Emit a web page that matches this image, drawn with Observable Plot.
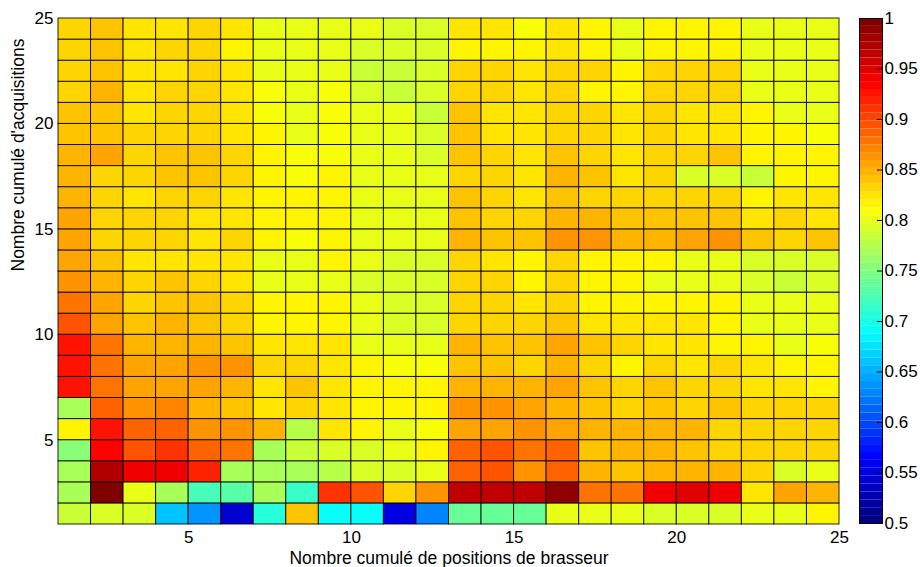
<!DOCTYPE html>
<html><head><meta charset="utf-8">
<script src="https://cdn.jsdelivr.net/npm/d3@7"></script>
<script src="https://cdn.jsdelivr.net/npm/@observablehq/plot@0.6"></script>
<style>
body{margin:0;background:#fff;}
#wrap{position:relative;width:920px;height:567px;background:#fff;}
#wrap svg{position:absolute;left:0;top:0;}
</style></head><body><div id="wrap"></div>
<script>
const xLabel = "Nombre cumulé de positions de brasseur";
const yLabel = "Nombre cumulé d'acquisitions";
const xTicks = [5, 10, 15, 20, 25];
const yTicks = [5, 10, 15, 20, 25];
const cbTicks = [0.5, 0.55, 0.6, 0.65, 0.7, 0.75, 0.8, 0.85, 0.9, 0.95, 1];

// values per row (y = 1 .. 24), columns x = 1 .. 24
const y24 = [0.833,0.837,0.824,0.824,0.830,0.822,0.800,0.800, 0.800,0.797,0.790,0.790,0.822,0.822,0.806,0.827, 0.820,0.800,0.817,0.817,0.817,0.800,0.797,0.797];
const y23 = [0.832,0.840,0.823,0.830,0.835,0.813,0.800,0.800, 0.797,0.795,0.790,0.790,0.817,0.815,0.815,0.825, 0.813,0.800,0.813,0.813,0.813,0.800,0.797,0.797];
const y22 = [0.832,0.840,0.823,0.822,0.835,0.823,0.803,0.800, 0.797,0.786,0.786,0.790,0.830,0.830,0.827,0.835, 0.830,0.815,0.830,0.830,0.830,0.800,0.800,0.800];
const y21 = [0.835,0.845,0.823,0.830,0.830,0.823,0.810,0.800, 0.805,0.792,0.786,0.790,0.830,0.830,0.825,0.835, 0.815,0.815,0.830,0.830,0.830,0.800,0.797,0.800];
const y20 = [0.843,0.843,0.822,0.830,0.832,0.823,0.812,0.800, 0.810,0.797,0.797,0.786,0.838,0.828,0.827,0.832, 0.830,0.825,0.830,0.825,0.825,0.813,0.803,0.800];
const y19 = [0.843,0.843,0.830,0.830,0.832,0.825,0.813,0.802, 0.810,0.797,0.797,0.790,0.837,0.828,0.827,0.832, 0.830,0.825,0.832,0.823,0.825,0.813,0.813,0.805];
const y18 = [0.850,0.852,0.835,0.837,0.837,0.830,0.813,0.812, 0.810,0.797,0.800,0.795,0.838,0.835,0.825,0.840, 0.835,0.823,0.835,0.835,0.838,0.813,0.813,0.813];
const y17 = [0.850,0.835,0.830,0.837,0.837,0.830,0.813,0.812, 0.813,0.797,0.800,0.797,0.835,0.832,0.825,0.845, 0.838,0.825,0.835,0.790,0.790,0.785,0.813,0.820];
const y16 = [0.850,0.835,0.825,0.832,0.833,0.825,0.813,0.813, 0.813,0.800,0.800,0.797,0.840,0.832,0.825,0.840, 0.835,0.830,0.835,0.835,0.835,0.813,0.825,0.825];
const y15 = [0.857,0.835,0.830,0.830,0.828,0.823,0.813,0.813, 0.813,0.800,0.800,0.800,0.842,0.835,0.835,0.845, 0.850,0.840,0.840,0.838,0.840,0.823,0.830,0.823];
const y14 = [0.855,0.835,0.830,0.835,0.828,0.832,0.813,0.810, 0.813,0.800,0.800,0.800,0.847,0.840,0.838,0.860, 0.860,0.845,0.845,0.855,0.860,0.838,0.833,0.840];
const y13 = [0.855,0.840,0.822,0.825,0.828,0.822,0.800,0.800, 0.813,0.797,0.790,0.790,0.832,0.825,0.813,0.830, 0.815,0.813,0.813,0.800,0.800,0.795,0.795,0.795];
const y12 = [0.860,0.850,0.833,0.840,0.833,0.822,0.800,0.800, 0.800,0.795,0.790,0.792,0.830,0.830,0.815,0.832, 0.815,0.815,0.800,0.800,0.800,0.795,0.788,0.790];
const y11 = [0.880,0.857,0.835,0.843,0.837,0.830,0.813,0.813, 0.813,0.800,0.795,0.790,0.832,0.830,0.823,0.835, 0.813,0.813,0.813,0.813,0.815,0.800,0.797,0.797];
const y10 = [0.897,0.855,0.843,0.845,0.840,0.835,0.813,0.813, 0.813,0.800,0.795,0.795,0.835,0.835,0.830,0.842, 0.825,0.825,0.823,0.825,0.815,0.800,0.797,0.800];
const y9  = [0.925,0.877,0.848,0.850,0.850,0.840,0.823,0.825, 0.822,0.800,0.803,0.797,0.845,0.842,0.840,0.852, 0.837,0.832,0.823,0.825,0.813,0.813,0.800,0.805];
const y8  = [0.925,0.875,0.855,0.855,0.860,0.866,0.833,0.833, 0.825,0.813,0.805,0.805,0.843,0.842,0.835,0.850, 0.830,0.820,0.830,0.823,0.832,0.823,0.815,0.820];
const y7  = [0.922,0.875,0.855,0.857,0.857,0.848,0.823,0.837, 0.825,0.813,0.813,0.813,0.850,0.850,0.845,0.852, 0.837,0.832,0.837,0.830,0.832,0.825,0.825,0.820];
const y6  = [0.770,0.888,0.862,0.870,0.845,0.840,0.825,0.835, 0.825,0.813,0.820,0.820,0.860,0.860,0.852,0.850, 0.840,0.835,0.842,0.832,0.843,0.830,0.835,0.830];
const y5  = [0.813,0.925,0.890,0.890,0.865,0.865,0.845,0.780, 0.825,0.813,0.800,0.805,0.855,0.855,0.866,0.853, 0.847,0.847,0.845,0.850,0.830,0.830,0.830,0.830];
const y4  = [0.757,0.930,0.897,0.907,0.885,0.880,0.770,0.785, 0.795,0.795,0.797,0.813,0.890,0.892,0.875,0.887, 0.840,0.845,0.845,0.838,0.830,0.830,0.830,0.830];
const y3  = [0.768,0.970,0.945,0.945,0.920,0.767,0.767,0.767, 0.775,0.790,0.795,0.803,0.887,0.897,0.866,0.890, 0.847,0.840,0.847,0.850,0.845,0.830,0.790,0.797];
const y2  = [0.770,1.000,0.797,0.770,0.720,0.727,0.770,0.718, 0.913,0.897,0.830,0.867,0.967,0.965,0.965,0.990, 0.877,0.875,0.945,0.952,0.945,0.825,0.852,0.845];
const y1  = [0.785,0.795,0.795,0.660,0.640,0.545,0.710,0.840, 0.695,0.695,0.550,0.630,0.742,0.742,0.742,0.797, 0.797,0.797,0.795,0.795,0.795,0.797,0.800,0.820];

const rows = [y1,y2,y3,y4,y5,y6,y7,y8,y9,y10,y11,y12,y13,y14,y15,y16,y17,y18,y19,y20,y21,y22,y23,y24];

// MATLAB-like jet colormap with 64 levels
function jet(t) {
  const n = 64;
  const i = Math.max(0, Math.min(n - 1, Math.floor(t * n)));
  const x = i / (n - 1);
  const c = v => Math.round(255 * Math.max(0, Math.min(1, v)));
  const r = c(1.5 - Math.abs(4 * x - 3));
  const g = c(1.5 - Math.abs(4 * x - 2));
  const b = c(1.5 - Math.abs(4 * x - 1));
  return `rgb(${r},${g},${b})`;
}

const cells = [];
rows.forEach((row, i) => row.forEach((v, j) => cells.push({x: j + 1, y: i + 1, v})));

const colorOpts = {type: "linear", domain: [0.5, 1], interpolate: t => jet(t), clamp: true};
const font = "'Liberation Sans', Arial, Helvetica, sans-serif";
const fmt = d => String(Math.round(d * 100) / 100);

const main = Plot.plot({
  width: 920, height: 567,
  marginLeft: 58, marginRight: 81, marginTop: 18, marginBottom: 43,
  style: {fontFamily: font, fontSize: "17px", color: "#000", background: "transparent"},
  x: {domain: [1, 25], ticks: xTicks, tickSize: 0, tickPadding: 6, label: null, tickFormat: fmt},
  y: {domain: [1, 25], ticks: yTicks, tickSize: 0, tickPadding: 5, label: null, tickFormat: fmt},
  color: colorOpts,
  marks: [
    Plot.rect(cells, {x1: "x", x2: d => d.x + 1, y1: "y", y2: d => d.y + 1, fill: "v", stroke: "#000", strokeWidth: 1, strokeOpacity: 0.85}),
    Plot.text([xLabel], {frameAnchor: "bottom", dy: 39, fontSize: 17.5, fill: "#000"}),
    Plot.text([yLabel], {frameAnchor: "left", dx: -40, rotate: -90, fontSize: 17.5, fill: "#000"})
  ]
});

const cbBins = d3.range(64).map(i => ({y1: 0.5 + i / 128, y2: 0.5 + (i + 1) / 128, v: 0.5 + (i + 0.5) / 128}));

const bar = Plot.plot({
  width: 920, height: 567,
  marginLeft: 859, marginRight: 38, marginTop: 18, marginBottom: 44,
  style: {fontFamily: font, fontSize: "17px", color: "#000", background: "transparent"},
  x: {domain: [0, 1], axis: null},
  y: {domain: [0.5, 1], ticks: cbTicks, tickFormat: fmt, axis: "right", tickSize: 0, tickPadding: 2, label: null},
  color: colorOpts,
  marks: [
    Plot.rect(cbBins, {x1: 0, x2: 1, y1: "y1", y2: "y2", fill: "v"}),
    Plot.ruleY(cbTicks, {x1: 0.78, x2: 1, stroke: "#000", strokeWidth: 1}),
    Plot.frame({stroke: "#000", strokeWidth: 1})
  ]
});

const wrap = document.getElementById("wrap");
wrap.appendChild(main);
wrap.appendChild(bar);
</script>
</body></html>
